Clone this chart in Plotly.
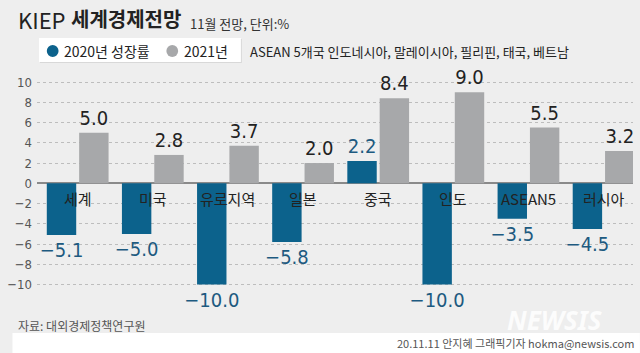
import plotly.graph_objects as go

categories = ["세계", "미국", "유로지역", "일본", "중국", "인도", "ASEAN5", "러시아"]
growth_2020 = [-5.1, -5.0, -10.0, -5.8, 2.2, -10.0, -3.5, -4.5]
growth_2021 = [5.0, 2.8, 3.7, 2.0, 8.4, 9.0, 5.5, 3.2]
y_ticks = [10, 8, 6, 4, 2, 0, -2, -4, -6, -8, -10]

BLUE = "#0c628c"
BLUE_TXT = "#1d5a80"
GRAY = "#a7a8aa"
BG = "#eeeeee"
KR = "Noto Sans CJK KR, Noto Sans, sans-serif"
NARROW = "Liberation Sans Narrow, DejaVu Sans Condensed, Arial Narrow, sans-serif"

# plot area in pixels
L, R, T, B = 25, 633, 70, 300
W, H = 640, 353


def px(xp):
    return (xp - L) / (R - L)


def py(yp):
    return (B - yp) / (B - T)


unit = 76.64  # pixels per category
xs = list(range(len(categories)))


def fmt(v):
    s = f"{abs(v):.1f}"
    return ("\u2212" + s) if v < 0 else s


fig = go.Figure()
fig.add_trace(go.Bar(
    x=xs, y=growth_2020, name="2020년 성장률",
    marker=dict(color=BLUE, line=dict(width=0)),
    width=30 / unit, offset=-31.5 / unit,
    text=[fmt(v) for v in growth_2020], textposition="outside",
    textfont=dict(family=NARROW, size=20, color=BLUE_TXT),
    constraintext="none", cliponaxis=False,
))
fig.add_trace(go.Bar(
    x=xs, y=growth_2021, name="2021년",
    marker=dict(color=GRAY, line=dict(width=0)),
    width=30 / unit, offset=1.5 / unit,
    text=[fmt(v) for v in growth_2021], textposition="outside",
    textfont=dict(family=NARROW, size=20, color="#222222"),
    constraintext="none", cliponaxis=False,
))

ann = []
for i, c in enumerate(categories):
    ann.append(dict(x=i, y=0, xref="x", yref="y", text=c, showarrow=False,
                    yanchor="middle", yshift=-15,
                    font=dict(family=KR, size=15, color="#222222")))

# title
ann.append(dict(x=px(4), y=py(19), xref="paper", yref="paper", text="KIEP",
                showarrow=False, xanchor="left", yanchor="middle",
                font=dict(family=KR, size=22, color="#222222")))
ann.append(dict(x=px(58), y=py(19), xref="paper", yref="paper", text="<b>세계경제전망</b>",
                showarrow=False, xanchor="left", yanchor="middle",
                font=dict(family=KR, size=20, color="#222222")))
ann.append(dict(x=px(179), y=py(23), xref="paper", yref="paper", text="11월 전망, 단위:%",
                showarrow=False, xanchor="left", yanchor="middle",
                font=dict(family=KR, size=13, color="#333333")))
# legend texts
ann.append(dict(x=px(51), y=py(51), xref="paper", yref="paper", text="2020년 성장률",
                showarrow=False, xanchor="left", yanchor="middle",
                font=dict(family=KR, size=14, color="#222222")))
ann.append(dict(x=px(173), y=py(51), xref="paper", yref="paper", text="2021년",
                showarrow=False, xanchor="left", yanchor="middle",
                font=dict(family=KR, size=14, color="#222222")))
ann.append(dict(x=px(240), y=py(51), xref="paper", yref="paper",
                text="ASEAN 5개국 인도네시아, 말레이시아, 필리핀, 태국, 베트남",
                showarrow=False, xanchor="left", yanchor="middle",
                font=dict(family=KR, size=13, color="#222222")))
# source & credit
ann.append(dict(x=px(4), y=py(325), xref="paper", yref="paper", text="자료: 대외경제정책연구원",
                showarrow=False, xanchor="left", yanchor="middle",
                font=dict(family=KR, size=12, color="#555555")))
ann.append(dict(x=px(553), y=py(320), xref="paper", yref="paper", text="<b><i>NEWSIS</i></b>",
                showarrow=False, xanchor="center", yanchor="middle", opacity=0.85,
                font=dict(family="Noto Sans, sans-serif", size=26, color="#ffffff")))
ann.append(dict(x=px(636), y=py(343), xref="paper", yref="paper",
                text="20.11.11 안지혜 그래픽기자 hokma@newsis.com",
                showarrow=False, xanchor="right", yanchor="middle",
                font=dict(family=KR, size=11, color="#555555")))

shapes = [
    # white bottom strip
    dict(type="rect", xref="paper", yref="paper", x0=px(0), x1=px(W), y0=py(333), y1=py(W),
         fillcolor="#ffffff", line=dict(width=0), layer="below"),
    # legend box shadow & box
    dict(type="rect", xref="paper", yref="paper", x0=px(28), x1=px(234), y0=py(39), y1=py(63),
         fillcolor="#d8d8d8", line=dict(width=0), layer="below"),
    dict(type="rect", xref="paper", yref="paper", x0=px(27), x1=px(233), y0=py(38), y1=py(62),
         fillcolor="#ffffff", line=dict(width=0), layer="below"),
    dict(type="circle", xref="paper", yref="paper", x0=px(35), x1=px(47), y0=py(45), y1=py(57),
         fillcolor=BLUE, line=dict(width=0)),
    dict(type="circle", xref="paper", yref="paper", x0=px(157), x1=px(169), y0=py(45), y1=py(57),
         fillcolor=GRAY, line=dict(width=0)),
]

y_top = (183.3 - T) / 10.13
y_bot = -(B - 183.3) / 10.13
x_left = (L - 66.5) / unit
x_right = 7 + (R - 603) / unit

fig.update_layout(
    width=W, height=H,
    margin=dict(l=L, r=W - R, t=T, b=H - B),
    paper_bgcolor=BG, plot_bgcolor="rgba(0,0,0,0)",
    showlegend=False, barmode="overlay",
    annotations=ann, shapes=shapes,
    xaxis=dict(range=[x_left, x_right], showticklabels=False, showgrid=False,
               zeroline=False, showline=False, ticks=""),
    yaxis=dict(range=[y_bot, y_top], tickvals=y_ticks,
               ticktext=[fmt(v).replace(".0", "") for v in y_ticks],
               tickfont=dict(family=NARROW, size=13, color="#555555"),
               showgrid=True, gridcolor="#bdbdbd", griddash="dot", gridwidth=1,
               zeroline=True, zerolinecolor="#8a8a8a", zerolinewidth=1.5,
               ticks="", ticklabelstandoff=4, showline=False),
)

fig.write_html("out.html")
